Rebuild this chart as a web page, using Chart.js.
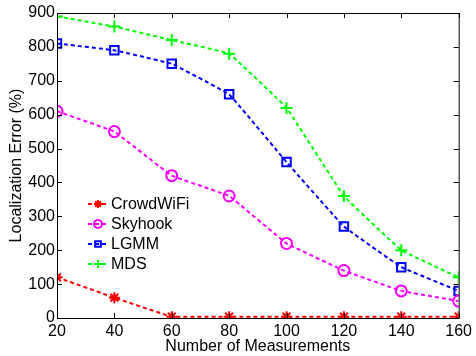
<!DOCTYPE html>
<html>
<head>
<meta charset="utf-8">
<script src="https://cdn.jsdelivr.net/npm/chart.js@4"></script>
<style>
  html, body { margin: 0; padding: 0; background: #fff; }
  #wrap { width: 476px; height: 356px; }
</style>
</head>
<body>
<div id="wrap"><canvas id="grafico" width="476" height="356"></canvas></div>
<script>
const mediciones = [20, 40, 60, 80, 100, 120, 140, 160];
const crowdwifi = [120, 60, 4, 4, 4, 4, 4, 4];
const skyhook = [610, 550, 420, 360, 220, 140, 80, 50];
const lgmm = [810, 790, 750, 660, 460, 270, 150, 80];
const mds = [890, 860, 820, 780, 620, 360, 200, 120];
const ticksY = [0, 100, 200, 300, 400, 500, 600, 700, 800, 900];

const fuente = 'Liberation Sans, Arial, sans-serif';

function serie(nombre, valores, color, estilo, radio) {
    return {
        label: nombre,
        data: mediciones.map((x, i) => ({ x: x, y: valores[i] })),
        borderColor: color,
        backgroundColor: estilo === 'circle' || estilo === 'rect' ? 'transparent' : color,
        pointBorderColor: color,
        borderWidth: 2,
        borderDash: [4, 3],
        pointStyle: estilo,
        pointRadius: radio,
        pointBorderWidth: 2,
        tension: 0.05,
        fill: false
    };
}

// marco y ticks hacia adentro, como en matlab
const marcoPlugin = {
    id: 'marco',
    afterDatasetsDraw(chart) {
        const ctx = chart.ctx;
        const a = chart.chartArea;
        const sx = chart.scales.x, sy = chart.scales.y;
        ctx.save();
        ctx.strokeStyle = '#000';
        ctx.lineWidth = 1;
        ctx.strokeRect(a.left + 0.5, a.top + 0.5, a.right - a.left, a.bottom - a.top);
        ctx.beginPath();
        mediciones.forEach(v => {
            const px = Math.round(sx.getPixelForValue(v)) + 0.5;
            ctx.moveTo(px, a.bottom); ctx.lineTo(px, a.bottom - 5);
            ctx.moveTo(px, a.top); ctx.lineTo(px, a.top + 5);
        });
        ticksY.forEach(v => {
            const py = Math.round(sy.getPixelForValue(v)) + 0.5;
            ctx.moveTo(a.left, py); ctx.lineTo(a.left + 5, py);
            ctx.moveTo(a.right, py); ctx.lineTo(a.right - 5, py);
        });
        ctx.stroke();
        ctx.restore();
    }
};

// leyenda dentro del area
const leyendaPlugin = {
    id: 'leyenda',
    afterDraw(chart) {
        const ctx = chart.ctx;
        ctx.save();
        ctx.font = '16px ' + fuente;
        ctx.textBaseline = 'middle';
        chart.data.datasets.forEach((ds, i) => {
            const y = 204 + i * 20;
            ctx.strokeStyle = ds.borderColor;
            ctx.lineWidth = 2;
            ctx.setLineDash([4, 3]);
            ctx.beginPath();
            ctx.moveTo(88, y); ctx.lineTo(108, y);
            ctx.stroke();
            ctx.setLineDash([]);
            ctx.fillStyle = ds.backgroundColor;
            Chart.helpers.drawPoint(ctx, {
                pointStyle: ds.pointStyle,
                radius: 4,
                borderWidth: 2,
                rotation: 0
            }, 98, y);
            ctx.fillStyle = '#000';
            ctx.fillText(ds.label, 111, y + 1);
        });
        ctx.restore();
    }
};

const ctx = document.getElementById('grafico').getContext('2d');
new Chart(ctx, {
    type: 'line',
    data: {
        datasets: [
            serie('CrowdWiFi', crowdwifi, '#ff0000', 'star', 5.5),
            serie('Skyhook', skyhook, '#ff00ff', 'circle', 5.5),
            serie('LGMM', lgmm, '#0000ff', 'rect', 6),
            serie('MDS', mds, '#00ff00', 'cross', 6)
        ]
    },
    options: {
        responsive: false,
        animation: false,
        layout: { padding: { top: 13, right: 14, left: 0, bottom: 0 } },
        plugins: {
            legend: { display: false },
            tooltip: { enabled: false }
        },
        scales: {
            x: {
                type: 'linear',
                min: 20,
                max: 160,
                afterBuildTicks: s => { s.ticks = mediciones.map(v => ({ value: v })); },
                afterFit: s => { s.height = 38; },
                grid: { display: false, drawTicks: false },
                border: { display: false },
                ticks: { color: '#000', font: { family: fuente, size: 16 }, padding: 4, maxRotation: 0 },
                title: { display: true, text: 'Number of Measurements', color: '#000', font: { family: fuente, size: 16, lineHeight: 1 }, padding: { top: 0, bottom: 1 } }
            },
            y: {
                min: 0,
                max: 900,
                afterBuildTicks: s => { s.ticks = ticksY.map(v => ({ value: v })); },
                afterFit: s => { s.width = 57; },
                grid: { display: false, drawTicks: false },
                border: { display: false },
                ticks: { color: '#000', font: { family: fuente, size: 16 }, padding: 2 },
                title: { display: true, text: 'Localization Error (%)', color: '#000', font: { family: fuente, size: 16, lineHeight: 1 }, padding: { top: 9, bottom: 0 } }
            }
        }
    },
    plugins: [marcoPlugin, leyendaPlugin]
});
</script>
</body>
</html>
